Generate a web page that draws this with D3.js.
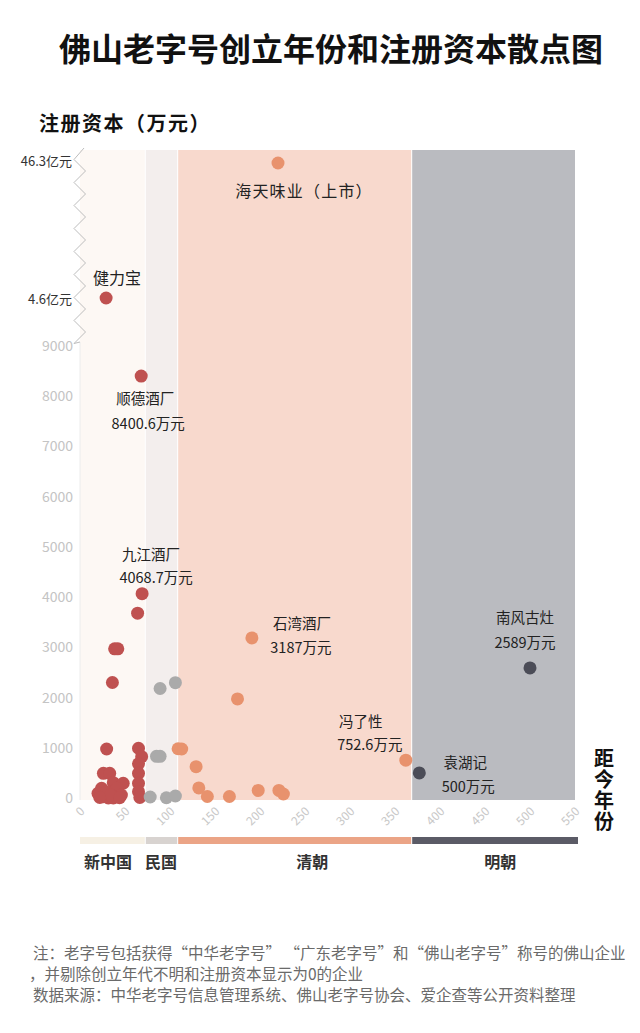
<!DOCTYPE html>
<html><head><meta charset="utf-8">
<script src="https://cdn.jsdelivr.net/npm/d3@7"></script>
<style>
body{margin:0;background:#fff;}
svg{display:block;font-family:"Noto Sans CJK SC","Noto Sans",sans-serif;}
</style>
</head><body>
<svg id="chart" width="640" height="1033"></svg>
<script>
// ---------- DATA ----------
const eras = ["新中国", "民国", "清朝", "明朝"];
const eraStart = [0, 72, 108, 368];
const eraEnd = [72, 108, 368, 550];
const eraLabelAt = [31, 90, 258, 467];

// [距今年份, 注册资本(万元)]
const newChinaPoints = [
  [29, 46000], [68, 8400.6], [69, 4068.7], [64, 3680], [38.5, 2970], [42, 2970],
  [36, 2300], [29.6, 975], [65, 990], [68.5, 823], [65, 680], [65, 492],
  [26, 492], [33, 492], [37, 305], [48, 293], [65, 293], [24, 193], [41, 193],
  [65, 126], [66.5, 10], [20, 93], [26, 27], [31.5, 0], [37, 0], [42.6, 27],
  [46, 60], [29, 120], [34, 60], [22, 10], [44, 5]
];
const minguoPoints = [
  [89, 2180], [106, 2297], [85, 830], [89, 830], [78, 20], [96, 5], [106, 40]
];
const qingPoints = [
  [220, 463000], [191, 3187], [175, 1972], [109, 980], [113, 975], [129, 624],
  [132, 200], [141.5, 30], [166, 30], [198, 150], [221, 150], [226, 80], [362, 752.6]
];
const mingPoints = [[377, 500], [500, 2589]];

const yTickValues = [0, 1000, 2000, 3000, 4000, 5000, 6000, 7000, 8000, 9000];
const xTickValues = [0, 50, 100, 150, 200, 250, 300, 350, 400, 450, 500, 550];
const breakTickValues = [46000, 463000];
const breakTickLabels = ["4.6亿元", "46.3亿元"];

const labelNames = ["海天味业（上市）", "健力宝", "顺德酒厂", "九江酒厂", "石湾酒厂", "冯了性", "袁湖记", "南风古灶"];
const labelValues = ["", "", "8400.6万元", "4068.7万元", "3187万元", "752.6万元", "500万元", "2589万元"];
const labelPoints = [[220, 463000], [29, 46000], [68, 8400.6], [69, 4068.7], [191, 3187], [362, 752.6], [377, 500], [500, 2589]];

// ---------- LAYOUT (not data) ----------
const labelOffsets = [
  [26, 27, 0, 0], [11, -21, 0, 0], [4, 21, 7, 46], [9, -40, 14, -17],
  [50, -15, 49, 9], [-45, -40, -36, -17], [46, -11, 49, 13], [-5, -51, -5, -26]
];
const bandColors = ["#fdf8f4", "#f3eeed", "#f8d9cd", "#babbc0"];
const barColors = ["#f6f0e4", "#d8d3d0", "#eba486", "#5b5b66"];
const pointColors = ["#bf5150", "#aaaaaa", "#e8926d", "#4b4c57"];

const svg = d3.select("#chart");
const x = d3.scaleLinear().domain([0, 550]).range([80, 575]);
const y = d3.scaleLinear().domain([-40, 9000, 46000, 463000, 503000]).range([800, 346, 298, 163, 150]);
const plotTop = y(503000), plotBottom = y(-40);

// Title
svg.append("text").attr("x", 331).attr("y", 47).attr("text-anchor", "middle")
  .attr("dominant-baseline", "central").attr("font-size", 32).attr("font-weight", "bold")
  .attr("fill", "#111").text("佛山老字号创立年份和注册资本散点图");

svg.append("text").attr("x", 39).attr("y", 122).attr("dominant-baseline", "central")
  .attr("font-size", 20).attr("font-weight", "bold").attr("letter-spacing", 1.5)
  .attr("fill", "#111").text("注册资本（万元）");

// Era bands
svg.append("g").selectAll("rect").data(eras).join("rect")
  .attr("x", (d, i) => x(eraStart[i]) + (i > 0 ? 1 : 0))
  .attr("width", (d, i) => x(eraEnd[i]) - x(eraStart[i]) - (i > 0 ? 1 : 0))
  .attr("y", plotTop).attr("height", plotBottom - plotTop)
  .attr("fill", (d, i) => bandColors[i]);

// Y axis line + break zigzag
svg.append("line").attr("x1", 80).attr("x2", 80).attr("y1", 342).attr("y2", plotBottom)
  .attr("stroke", "#ececec").attr("stroke-width", 1);
const zig = [];
let zy = 148, side = 1;
zig.push([84, zy]);
while (zy < 336) { zy += 11.5; side = -side; zig.push([80 + side * 5.5 + (side > 0 ? 0 : -0.5), zy]); }
zig.push([80, 342]);
svg.append("path").attr("d", d3.line()(zig)).attr("fill", "none")
  .attr("stroke", "#bdbdbd").attr("stroke-width", 1);

// Y axis ticks
const yAxis = d3.axisLeft(y).tickValues(yTickValues).tickSize(0).tickPadding(0).tickFormat(d3.format("d"));
const gy = svg.append("g").attr("transform", "translate(73,0)").call(yAxis);
gy.select(".domain").remove();
gy.selectAll("text").attr("font-size", 14).attr("fill", "#c4c4c4")
  .attr("font-family", '"Noto Sans CJK SC","Noto Sans",sans-serif');

svg.append("g").selectAll("text").data(breakTickValues).join("text")
  .attr("x", 72).attr("y", (d, i) => y(d) - (i === 1 ? 3 : 0))
  .attr("text-anchor", "end").attr("dominant-baseline", "central")
  .attr("font-size", 13).attr("fill", "#333").text((d, i) => breakTickLabels[i]);

// X axis tick labels
const xAxis = d3.axisBottom(x).tickValues(xTickValues).tickSize(0).tickPadding(0);
const gx = svg.append("g").attr("transform", `translate(0,${plotBottom})`).call(xAxis);
gx.select(".domain").remove();
gx.selectAll("text").attr("font-size", 12).attr("fill", "#c8c8c8")
  .attr("font-family", '"Noto Sans CJK SC","Noto Sans",sans-serif')
  .attr("text-anchor", "end").attr("dy", null).attr("y", 0)
  .attr("transform", "translate(5,12) rotate(-45)");

// X axis title (vertical)
svg.append("text").attr("x", 604).attr("y", 748)
  .style("writing-mode", "vertical-rl").attr("letter-spacing", 1.3)
  .attr("font-size", 20).attr("font-weight", "bold")
  .attr("fill", "#111").text("距今年份");

// Points
const series = [newChinaPoints, minguoPoints, qingPoints, mingPoints];
series.forEach((pts, si) => {
  svg.append("g").selectAll("circle").data(pts).join("circle")
    .attr("cx", d => x(d[0])).attr("cy", d => y(d[1])).attr("r", 6.5)
    .attr("fill", pointColors[si]);
});

// Annotations
const ann = svg.append("g").attr("fill", "#222");
labelNames.forEach((name, i) => {
  const px = x(labelPoints[i][0]), py = y(labelPoints[i][1]);
  const o = labelOffsets[i];
  const big = labelValues[i] === "";
  ann.append("text").attr("x", px + o[0]).attr("y", py + o[1]).attr("text-anchor", "middle")
    .attr("dominant-baseline", "central").attr("font-size", big ? 16 : 14.5)
    .attr("letter-spacing", i === 0 ? 1.2 : 0).text(name);
  if (!big) {
    ann.append("text").attr("x", px + o[2]).attr("y", py + o[3]).attr("text-anchor", "middle")
      .attr("dominant-baseline", "central").attr("font-size", 14.5).text(labelValues[i]);
  }
});

// Era legend bar
svg.append("g").selectAll("rect").data(eras).join("rect")
  .attr("x", (d, i) => x(eraStart[i]) + (i > 0 ? 1 : 0))
  .attr("width", (d, i) => x(eraEnd[i]) - x(eraStart[i]) - (i > 0 ? 1 : 0) + (i === 3 ? 3 : 0))
  .attr("y", 837).attr("height", 7).attr("fill", (d, i) => barColors[i]);
svg.append("g").selectAll("text").data(eras).join("text")
  .attr("x", (d, i) => x(eraLabelAt[i])).attr("y", 861).attr("text-anchor", "middle")
  .attr("dominant-baseline", "central").attr("font-size", 16).attr("font-weight", "bold")
  .attr("fill", "#333").text(d => d);

// Footnote
const notes = [
  "注：老字号包括获得“中华老字号” “广东老字号”和“佛山老字号”称号的佛山企业",
  "，并剔除创立年代不明和注册资本显示为0的企业",
  "数据来源：中华老字号信息管理系统、佛山老字号协会、爱企查等公开资料整理"
];
svg.append("g").selectAll("text").data(notes).join("text")
  .attr("x", (d, i) => i === 1 ? 29 : 33).attr("y", (d, i) => [952, 973, 994][i])
  .attr("dominant-baseline", "central").attr("font-size", 15.5).attr("fill", "#6a6a6a")
  .text(d => d);
</script>
</body></html>
